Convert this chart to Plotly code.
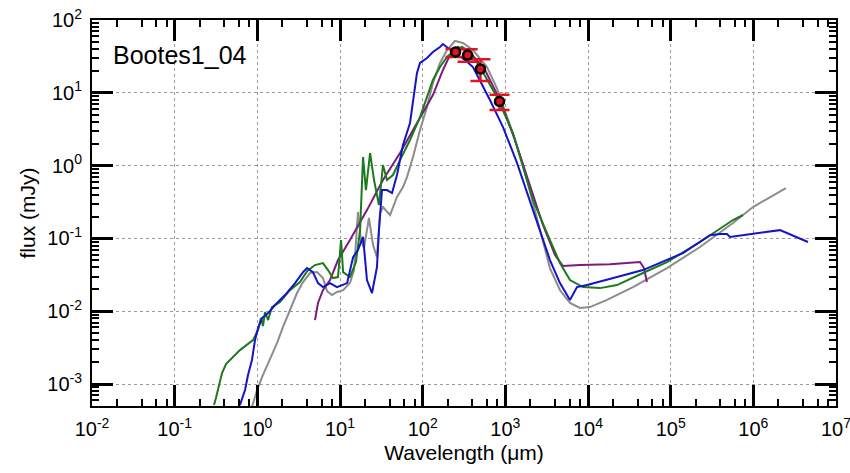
import plotly.graph_objects as go

# ---- SED model curves (wavelength in micron, flux in mJy) ----
green_wl = [0.299, 0.316, 0.374, 0.418, 0.616, 0.886, 1.02, 1.107, 1.17, 1.24, 1.35, 1.50, 1.88,
            2.48, 3.28, 3.99, 4.98, 6.22, 7.16, 8.23, 9.46, 10.3, 10.9, 13.2, 15.6, 17.5, 19.0,
            20.6, 23.1, 25.8, 29.6, 33.1, 37.0, 43.7, 53.2, 70.3, 92.9, 113, 133, 162, 197, 246,
            299, 373, 493, 792, 1238, 1636, 2161, 3467, 4581, 6053, 8690, 13960, 22430, 46240,
            90200, 226400, 567500, 749900]
green_flux = [5.15e-4, 6.43e-4, 1.42e-3, 1.88e-3, 2.93e-3, 4.02e-3, 5.52e-3, 8.07e-3, 6.26e-3,
              9.75e-3, 7.57e-3, 1.14e-2, 1.34e-2, 1.95e-2, 2.52e-2, 3.56e-2, 4.31e-2, 4.59e-2,
              3.68e-2, 2.86e-2, 2.95e-2, 9.5e-2, 3.45e-2, 2.95e-2, 4.74e-2, 0.130, 1.31, 0.462,
              1.49, 0.634, 0.288, 1.02, 0.634, 0.743, 1.19, 2.25, 4.65, 8.75, 15.0, 22.6, 31.0,
              38.7, 42.6, 36.4, 22.6, 8.75, 2.80, 0.957, 0.337, 0.095, 0.0459, 0.0268, 0.0215,
              0.0208, 0.0229, 0.0335, 0.0474, 0.0893, 0.179, 0.21]

blue_wl = [0.616, 0.710, 0.771, 0.861, 0.937, 1.02, 1.14, 1.35, 1.64, 2.16, 2.86, 3.57, 3.99,
           4.71, 5.42, 6.22, 7.57, 9.2, 12.2, 13.2, 14.4, 16.5, 19.0, 21.2, 24.4, 28.0, 29.6,
           32.2, 37.0, 42.6, 48.9, 57.8, 70.3, 85.3, 92.9, 113, 133, 162, 176, 202, 246, 325,
           406, 652, 937, 1384, 2161, 3467, 4581, 6053, 7362, 9730, 22430, 46240, 140900,
           299200, 395300, 479700, 522400, 2.10e6, 4.58e6]
blue_flux = [5.15e-4, 8.28e-4, 1.33e-3, 2.14e-3, 4.02e-3, 5.88e-3, 8.07e-3, 9.44e-3, 1.22e-2,
             1.67e-2, 2.44e-2, 3.45e-2, 3.92e-2, 3.45e-2, 2.44e-2, 2.15e-2, 2.44e-2, 2.15e-2,
             2.44e-2, 3.68e-2, 5.55e-2, 6.93e-2, 0.105, 2.68e-2, 1.78e-2, 4.05e-2, 0.130, 0.462,
             0.462, 0.421, 0.743, 1.92, 3.85, 18.7, 25.7, 30.1, 36.4, 42.6, 46.8, 41.2, 35.2,
             28.2, 22.6, 7.96, 3.39, 1.09, 0.245, 0.0505, 0.0244, 0.0143, 0.0215, 0.0229,
             0.0295, 0.0368, 0.063, 0.111, 0.115, 0.115, 0.105, 0.130, 0.0893]

gray_wl = [0.861, 0.991, 1.14, 1.42, 1.73, 2.04, 2.48, 3.02, 3.57, 4.34, 5.27, 6.22, 6.97, 8.0,
           9.2, 10.9, 13.2, 14.8, 16.5, 17.9, 19.5, 22.4, 25.1, 28.0, 30.5, 33.1, 40.3, 48.9,
           57.8, 64.6, 76.4, 92.9, 113, 133, 162, 197, 246, 307, 406, 600, 792, 1138, 1636,
           2284, 3467, 4581, 6053, 8000, 10570, 16980, 35000, 90200, 226400, 567500, 990000,
           2.48e6]
gray_flux = [4.83e-4, 8.28e-4, 1.25e-3, 2.14e-3, 3.66e-3, 6.07e-3, 1.04e-2, 1.78e-2, 2.52e-2,
             3.35e-2, 3.45e-2, 2.86e-2, 1.89e-2, 1.67e-2, 1.84e-2, 1.95e-2, 2.44e-2, 3.68e-2,
             0.231, 9.5e-2, 7.38e-2, 0.191, 8.11e-2, 5.55e-2, 0.223, 0.270, 0.21, 0.371, 0.508,
             0.697, 1.31, 3.08, 6.38, 13.6, 25.7, 38.7, 51.5, 48.3, 38.7, 22.6, 11.5, 3.61,
             1.02, 0.245, 0.0392, 0.0195, 0.0130, 0.0111, 0.0114, 0.0143, 0.0215, 0.0392,
             0.0762, 0.163, 0.270, 0.492]

purple_wl = [4.98, 5.42, 6.22, 7.57, 9.46, 13.2, 21.2, 33.1, 53.2, 92.9, 133, 176, 214, 267,
             373, 568, 861, 1309, 1987, 2853, 3990, 4980, 8000, 18450, 42560, 47540, 51640]
purple_flux = [7.57e-3, 1.30e-2, 1.95e-2, 2.68e-2, 5.05e-2, 9.5e-2, 0.245, 0.634, 1.49, 4.65,
               9.33, 20.6, 33.1, 42.6, 36.4, 20.6, 7.96, 2.25, 0.542, 0.153, 0.0592, 0.0418,
               0.0431, 0.0444, 0.0474, 0.0392, 0.0252]

# ---- observed photometry ----
obs_wl = [250, 350, 500, 850]
obs_flux = [36.3, 33.0, 21.3, 7.6]
obs_err_hi = [40.0, 39.6, 29.0, 9.4]
obs_err_lo = [31.0, 26.8, 14.5, 5.8]

source_name = "Bootes1_04"

x_decades = list(range(-2, 8))
y_decades = list(range(-3, 3))


def power_label(p):
    return "10<sup>%d</sup>" % p


fig = go.Figure()

curves = [
    (gray_wl, gray_flux, "#8c8c8c"),
    (purple_wl, purple_flux, "#7d1a7d"),
    (green_wl, green_flux, "#1c7a1c"),
    (blue_wl, blue_flux, "#1414c8"),
]
for wl, fl, col in curves:
    fig.add_trace(go.Scatter(x=wl, y=fl, mode="lines",
                             line=dict(color=col, width=2), showlegend=False))

fig.add_trace(go.Scatter(
    x=obs_wl, y=obs_flux, mode="markers", showlegend=False,
    marker=dict(size=9, color="#e0141e", line=dict(color="black", width=2.5)),
    error_y=dict(type="data", symmetric=False,
                 array=[h - f for h, f in zip(obs_err_hi, obs_flux)],
                 arrayminus=[f - l for f, l in zip(obs_flux, obs_err_lo)],
                 color="#e0141e", thickness=2.5, width=10),
))

fig.add_annotation(text=source_name, xref="paper", yref="paper", x=0.026, y=0.91,
                   xanchor="left", yanchor="middle", showarrow=False,
                   font=dict(size=25, color="black"))

font_family = "Liberation Sans, Arial, Helvetica, sans-serif"

x_minor = [k * 10 ** d for d in range(-2, 7) for k in (2, 4, 6, 8)]
y_minor = [k * 10 ** d for d in range(-4, 2) for k in range(2, 10)]

axis_common = dict(
    type="log", showline=True, linecolor="black", linewidth=2, mirror="allticks",
    ticks="inside", tickcolor="black", tickwidth=2.5, ticklen=21,
    showgrid=True, gridcolor="#9a9a9a", griddash="dot", gridwidth=1,
    zeroline=False, automargin=False, ticklabeloverflow="allow",
    tickfont=dict(size=20, color="black", family=font_family),
)

fig.update_xaxes(
    **axis_common,
    range=[-2, 7],
    tickmode="array",
    tickvals=[10 ** p for p in x_decades],
    ticktext=[power_label(p) for p in x_decades],
    ticklabelstandoff=4,
    minor=dict(tickmode="array", tickvals=x_minor, ticks="inside", ticklen=7,
               tickwidth=2, tickcolor="black", showgrid=False),
    title=dict(text="Wavelength (μm)", font=dict(size=21, color="black", family=font_family),
               standoff=6),
)
fig.update_yaxes(
    **axis_common,
    range=[-3.301, 2],
    tickmode="array",
    tickvals=[10 ** p for p in y_decades],
    ticktext=[power_label(p) for p in y_decades],
    ticklabelstandoff=4,
    minor=dict(tickmode="array", tickvals=y_minor, ticks="inside", ticklen=7,
               tickwidth=2, tickcolor="black", showgrid=False),
    title=dict(text="flux (mJy)", font=dict(size=21, color="black", family=font_family),
               standoff=6),
)

fig.update_layout(
    width=850, height=473,
    margin=dict(l=92, r=14, t=20, b=67),
    paper_bgcolor="white", plot_bgcolor="white",
    font=dict(family=font_family, color="black"),
)

fig.write_html("out.html")
